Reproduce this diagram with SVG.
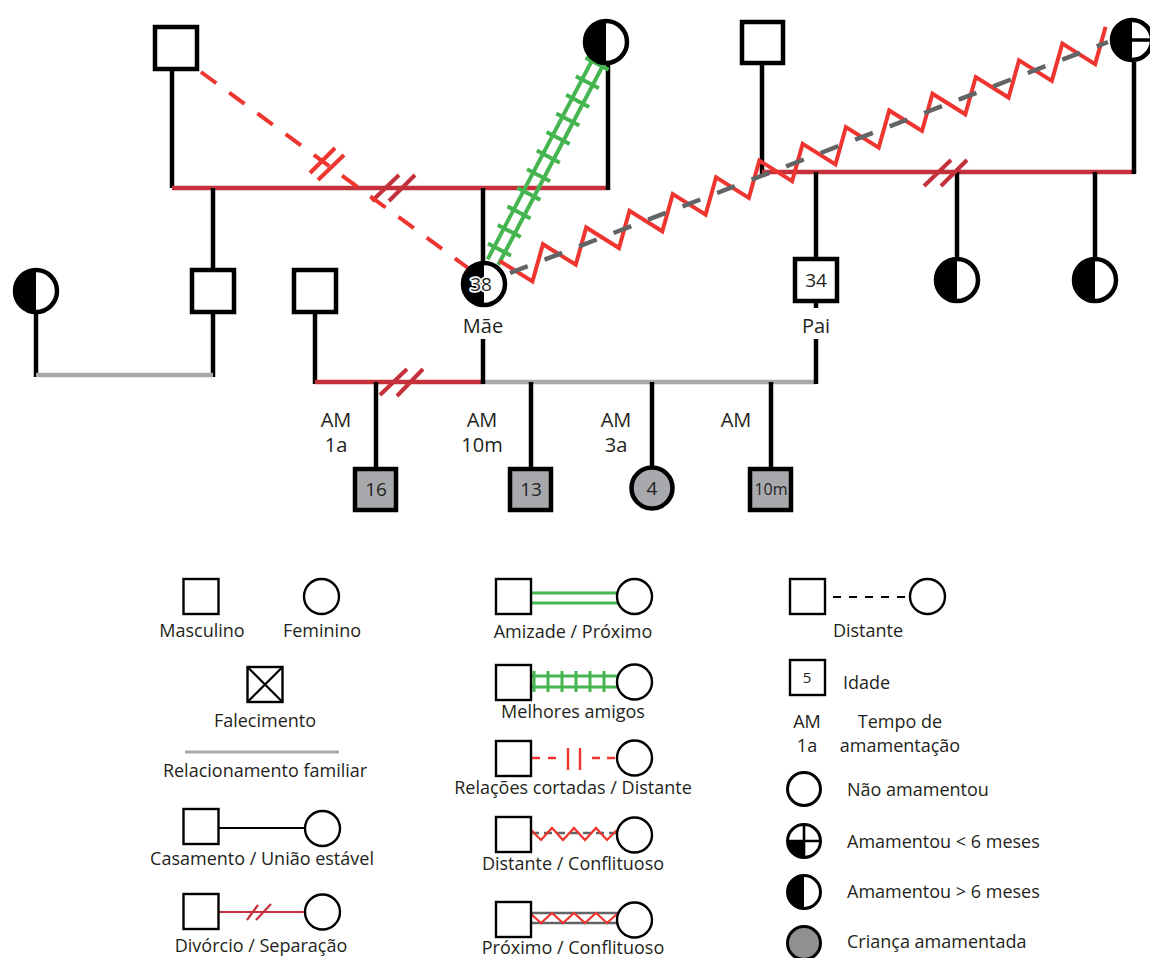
<svg xmlns="http://www.w3.org/2000/svg" width="1150" height="958" viewBox="0 0 1150 958">
<style>
.ln{stroke:#000;stroke-width:4.5;fill:none}
.rd{stroke:#c4313b;stroke-width:4.5;fill:none}
.gy{stroke:#a7a9ac;stroke-width:4.5;fill:none}
.br{stroke:#ee3530;stroke-width:4;fill:none}
.gn{stroke:#45b550;stroke-width:4;fill:none}
.nd{fill:#fff;stroke:#000;stroke-width:4.5}
.ch{fill:#a7a9ac;stroke:#000;stroke-width:4.5}
.lg{fill:#fff;stroke:#000;stroke-width:2.4}
.blk{fill:#000}
.t{font-family:"Open Sans","Liberation Sans",sans-serif;fill:#231f20}
.m{font-size:20px;text-anchor:middle}
.n{font-size:19px;text-anchor:middle}
.l{font-size:18px}
.c{text-anchor:middle}
.halo{paint-order:stroke;stroke:#fff;stroke-width:3.5px;stroke-linejoin:round}
</style>

<g id="connectors">
  <polyline class="ln" points="172,71 172,188"/>
  <line class="rd" x1="172" y1="188" x2="608" y2="188"/>
  <polyline class="ln" points="608,64 608,190"/>
  <line class="ln" x1="213" y1="188" x2="213" y2="268"/>
  <line class="ln" x1="483" y1="188" x2="483" y2="262"/>
  <line class="ln" x1="762" y1="64" x2="762" y2="174"/>
  <line class="rd" x1="762" y1="172" x2="1134" y2="172"/>
  <line class="ln" x1="1134" y1="62" x2="1134" y2="174"/>
  <line class="ln" x1="816" y1="172" x2="816" y2="258"/>
  <line class="ln" x1="957" y1="172" x2="957" y2="258"/>
  <line class="ln" x1="1095" y1="172" x2="1095" y2="258"/>
  <line class="ln" x1="36" y1="313" x2="36" y2="377"/>
  <line class="ln" x1="213" y1="313" x2="213" y2="377"/>
  <line class="gy" x1="36" y1="375" x2="213" y2="375"/>
  <line class="ln" x1="315" y1="313" x2="315" y2="384"/>
  <line class="rd" x1="315" y1="382" x2="483" y2="382"/>
  <line class="gy" x1="483" y1="382" x2="816" y2="382"/>
  <line class="ln" x1="483" y1="339" x2="483" y2="384"/>
  <line class="ln" x1="816" y1="302" x2="816" y2="308"/>
  <line class="ln" x1="816" y1="339" x2="816" y2="384"/>
  <line class="ln" x1="376" y1="382" x2="376" y2="467"/>
  <line class="ln" x1="531" y1="382" x2="531" y2="467"/>
  <line class="ln" x1="652" y1="382" x2="652" y2="467"/>
  <line class="ln" x1="771" y1="382" x2="771" y2="467"/>
  <g class="rd" style="stroke-width:4">
    <line x1="372" y1="201" x2="399" y2="175"/><line x1="389" y1="201" x2="415" y2="175"/>
    <line x1="924" y1="186" x2="951" y2="160"/><line x1="941" y1="186" x2="967" y2="160"/>
    <line x1="380" y1="395" x2="407" y2="369"/><line x1="397" y1="396" x2="423" y2="369"/>
  </g>
  <line class="br" x1="201" y1="72" x2="468" y2="268" stroke-dasharray="19 16"/>
  <line class="br" x1="310" y1="173" x2="335" y2="148"/>
  <line class="br" x1="318" y1="180" x2="344" y2="155"/>
  <g transform="translate(493,262) rotate(-62.3)" class="gn">
    <line x1="0" y1="-6" x2="226" y2="-6"/>
    <line x1="0" y1="6" x2="226" y2="6"/>
    <path d="M14,-13v26M35,-13v26M56,-13v26M77,-13v26M98,-13v26M119,-13v26M140,-13v26M161,-13v26M182,-13v26M203,-13v26M224,-13v26"/>
  </g>
  <path class="br" transform="translate(510,273) rotate(-21.12)" stroke-linejoin="miter" d="M-5.3,-15 l23.2,31 l23.2,-31 l23.2,31 l23.2,-31 l23.2,31 l23.2,-31 l23.2,31 l23.2,-31 l23.2,31 l23.2,-31 l23.2,31 l23.2,-31 l23.2,31 l23.2,-31 l23.2,31 l23.2,-31 l23.2,31 l23.2,-31 l23.2,31 l23.2,-31 l23.2,31 l23.2,-31 l23.2,31 l23.2,-31 l23.2,31 l23.2,-31 l23.2,31 l23.2,-31"/>
  <line x1="510" y1="273" x2="1108" y2="42" stroke="#636466" stroke-width="4.5" stroke-dasharray="19 18"/>
</g>

<g id="n-avo-materno"><rect class="nd" x="155" y="27" width="42" height="42"/></g>
<g id="n-avo-materna"><circle class="nd" cx="606" cy="42" r="21"/><path class="blk" d="M606,21A21,21 0 0 0 606,63Z"/></g>
<g id="n-avo-paterno"><rect class="nd" x="742" y="22" width="41" height="41"/></g>
<g id="n-avo-paterna"><circle class="nd" cx="1132" cy="40" r="20"/><path class="blk" d="M1132,20A20,20 0 0 0 1132,60Z"/><line x1="1132" y1="40" x2="1152" y2="40" stroke="#000" stroke-width="3.5"/></g>
<g id="n-tia-materna"><circle class="nd" cx="36" cy="291" r="21"/><path class="blk" d="M36,270A21,21 0 0 0 36,312Z"/></g>
<g id="n-tio-materno"><rect class="nd" x="192" y="270" width="42" height="42"/></g>
<g id="n-ex-companheiro"><rect class="nd" x="294" y="270" width="42" height="42"/></g>
<g id="n-mae"><circle class="nd" cx="484" cy="284" r="21"/><path class="blk" d="M484,263A21,21 0 0 0 484,305Z"/>
  <text class="t n halo" x="481" y="291">38</text>
  <text class="t m" x="483" y="333">Mãe</text></g>
<g id="n-pai"><rect class="nd" x="795" y="259" width="42" height="42"/>
  <text class="t n" x="816" y="287">34</text>
  <text class="t m" x="816" y="333">Pai</text></g>
<g id="n-tia-paterna-1"><circle class="nd" cx="957" cy="280" r="21"/><path class="blk" d="M957,259A21,21 0 0 0 957,301Z"/></g>
<g id="n-tia-paterna-2"><circle class="nd" cx="1095" cy="280" r="21"/><path class="blk" d="M1095,259A21,21 0 0 0 1095,301Z"/></g>
<g id="n-filho-16"><rect class="ch" x="355" y="469" width="41" height="41"/><text class="t n" x="376" y="496">16</text>
  <text class="t m" x="336" y="427">AM</text><text class="t m" x="336" y="452">1a</text></g>
<g id="n-filho-13"><rect class="ch" x="510" y="469" width="41" height="41"/><text class="t n" x="531" y="496">13</text>
  <text class="t m" x="482" y="427">AM</text><text class="t m" x="482" y="452">10m</text></g>
<g id="n-filha-4"><circle class="ch" cx="652" cy="488" r="20.5"/><text class="t n" x="652" y="495">4</text>
  <text class="t m" x="616" y="427">AM</text><text class="t m" x="616" y="452">3a</text></g>
<g id="n-filho-10m"><rect class="ch" x="750" y="469" width="41" height="41"/><text class="t n" x="771" y="495" style="font-size:16px">10m</text>
  <text class="t m" x="736" y="427">AM</text></g>

<g id="legend">
  <g id="lg-masculino"><rect class="lg" x="183.5" y="579" width="35" height="35"/><text class="t l c" x="202" y="637">Masculino</text></g>
  <g id="lg-feminino"><circle class="lg" cx="321.5" cy="596.5" r="17.5"/><text class="t l c" x="322" y="637">Feminino</text></g>
  <g id="lg-falecimento"><rect class="lg" x="247.5" y="667" width="35" height="35"/><path d="M247.5,667L282.5,702M282.5,667L247.5,702" stroke="#000" stroke-width="2.2"/><text class="t l c" x="265" y="727">Falecimento</text></g>
  <g id="lg-familiar"><line x1="185" y1="752" x2="339" y2="752" stroke="#a7a9ac" stroke-width="3"/><text class="t l c" x="265" y="777">Relacionamento familiar</text></g>
  <g id="lg-casamento"><line x1="219" y1="828" x2="305" y2="828" stroke="#000" stroke-width="2"/><rect class="lg" x="183.5" y="809" width="35" height="35"/><circle class="lg" cx="322.5" cy="828.5" r="17.5"/><text class="t l c" x="262" y="865">Casamento / União estável</text></g>
  <g id="lg-divorcio"><line x1="219" y1="912" x2="305" y2="912" stroke="#c4313b" stroke-width="2.2"/><path d="M247,920L258,905M256,920L271,904" stroke="#c4313b" stroke-width="2.2"/><rect class="lg" x="183.5" y="894" width="35" height="35"/><circle class="lg" cx="322.5" cy="912" r="17.5"/><text class="t l c" x="261" y="952">Divórcio / Separação</text></g>

  <g id="lg-amizade"><path d="M531,593H618M531,603H618" stroke="#45b550" stroke-width="3"/><rect class="lg" x="496" y="579" width="35" height="35"/><circle class="lg" cx="634.5" cy="596.5" r="17.5"/><text class="t l c" x="573" y="638">Amizade / Próximo</text></g>
  <g id="lg-melhores"><path d="M531,676H618M531,687H618M534,671V692M548,671V692M562,671V692M576,671V692M590,671V692M604,671V692" stroke="#45b550" stroke-width="3"/><rect class="lg" x="496" y="665" width="35" height="35"/><circle class="lg" cx="634.5" cy="682" r="17.5"/><text class="t l c" x="573" y="718">Melhores amigos</text></g>
  <g id="lg-cortadas"><path d="M532,758H540M548,758H556M592,758H600M607,758H615M568,748V770M580,748V770" stroke="#ee3530" stroke-width="2.4"/><rect class="lg" x="496" y="741" width="35" height="35"/><circle class="lg" cx="634.5" cy="758" r="17.5"/><text class="t l c" x="573" y="794">Relações cortadas / Distante</text></g>
  <g id="lg-dist-conf"><line x1="531" y1="833" x2="617" y2="833" stroke="#636466" stroke-width="2.6" stroke-dasharray="8 5"/><path d="M531,830L541,840L552,828L563,840L574,828L585,840L596,828L607,840L617,830" fill="none" stroke="#ee3530" stroke-width="2.2"/><rect class="lg" x="496" y="817" width="35" height="35"/><circle class="lg" cx="634.5" cy="835" r="17.5"/><text class="t l c" x="573" y="870">Distante / Conflituoso</text></g>
  <g id="lg-prox-conf"><path d="M531,913H618M531,923H618" stroke="#636466" stroke-width="2.4"/><path d="M531,914L541,923L552,913L563,923L574,913L585,923L596,913L607,923L617,914" fill="none" stroke="#ee3530" stroke-width="2.2"/><rect class="lg" x="496" y="902" width="35" height="35"/><circle class="lg" cx="634.5" cy="920" r="17.5"/><text class="t l c" x="573" y="954">Próximo / Conflituoso</text></g>

  <g id="lg-distante"><line x1="833" y1="597" x2="905" y2="597" stroke="#000" stroke-width="2" stroke-dasharray="8 8"/><rect class="lg" x="790" y="579" width="35" height="35"/><circle class="lg" cx="927.5" cy="596.5" r="17.5"/><text class="t l c" x="868" y="637">Distante</text></g>
  <g id="lg-idade"><rect class="lg" x="790" y="660" width="35" height="35"/><text class="t c" x="807" y="683" style="font-size:15px">5</text><text class="t l" x="843" y="689">Idade</text></g>
  <g id="lg-tempo"><text class="t l c" x="807" y="728">AM</text><text class="t l c" x="807" y="752">1a</text><text class="t l c" x="900" y="728">Tempo de</text><text class="t l c" x="900" y="752">amamentação</text></g>
  <g id="lg-nao"><circle class="lg" cx="804" cy="789" r="16.5" style="stroke-width:3"/><text class="t l" x="847" y="796">Não amamentou</text></g>
  <g id="lg-menos6"><circle class="lg" cx="804" cy="841" r="16.5" style="stroke-width:3"/><path class="blk" d="M804,841H787.5A16.5,16.5 0 0 0 804,857.5Z"/><path d="M787.5,841H820.5M804,824.5V857.5" stroke="#000" stroke-width="2.6"/><text class="t l" x="847" y="848">Amamentou &lt; 6 meses</text></g>
  <g id="lg-mais6"><circle class="lg" cx="804" cy="892" r="16.5" style="stroke-width:3"/><path class="blk" d="M804,875.5A16.5,16.5 0 0 0 804,908.5Z"/><text class="t l" x="847" y="898">Amamentou &gt; 6 meses</text></g>
  <g id="lg-crianca"><circle cx="804" cy="943" r="16.5" fill="#8e9092" stroke="#000" stroke-width="3"/><text class="t l" x="847" y="948">Criança amamentada</text></g>
</g>
</svg>
